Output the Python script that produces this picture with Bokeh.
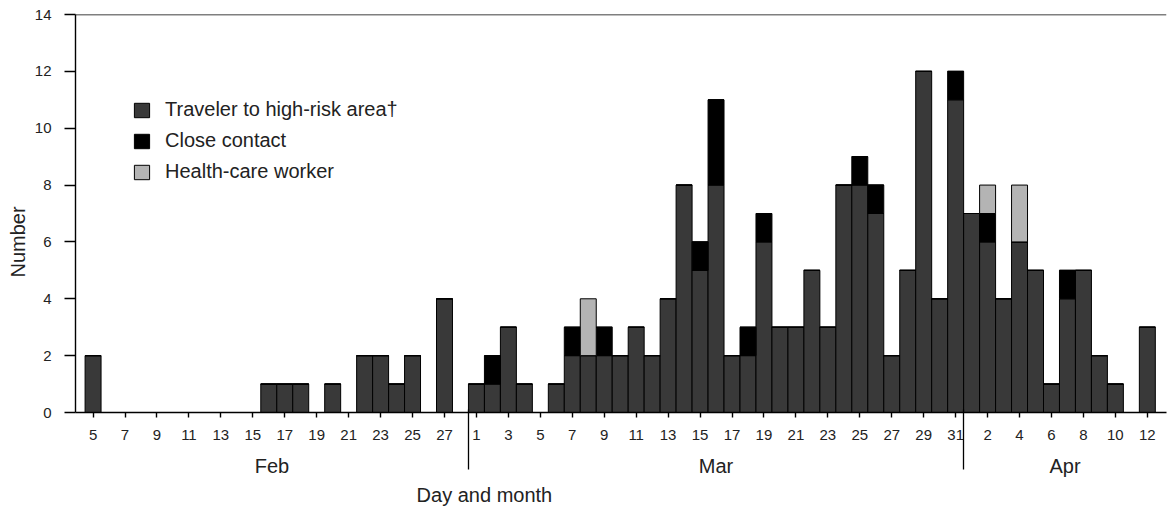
from bokeh.plotting import figure
from bokeh.models import LinearAxis, FixedTicker, Span, ColumnDataSource
from bokeh.embed import file_html
from bokeh.resources import INLINE

# ---- data ----
month_names = ["Feb", "Mar", "Apr"]
feb_days = list(range(5, 29))
mar_days = list(range(1, 32))
apr_days = list(range(1, 13))

feb_traveler = [2, 0, 0, 0, 0, 0, 0, 0, 0, 0, 0, 1, 1, 1, 0, 1, 0, 2, 2, 1, 2, 0, 4, 0]
feb_close = [0] * 24
feb_hcw = [0] * 24

mar_traveler = [1, 1, 3, 1, 0, 1, 2, 2, 2, 2, 3, 2, 4, 8, 5, 8, 2, 2, 6, 3, 3, 5, 3, 8, 8, 7, 2, 5, 12, 4, 11]
mar_close = [0, 1, 0, 0, 0, 0, 1, 0, 1, 0, 0, 0, 0, 0, 1, 3, 0, 1, 1, 0, 0, 0, 0, 0, 1, 1, 0, 0, 0, 0, 1]
mar_hcw = [0, 0, 0, 0, 0, 0, 0, 2, 0, 0, 0, 0, 0, 0, 0, 0, 0, 0, 0, 0, 0, 0, 0, 0, 0, 0, 0, 0, 0, 0, 0]

apr_traveler = [7, 6, 4, 6, 5, 1, 4, 5, 2, 1, 0, 3]
apr_close = [0, 1, 0, 0, 0, 0, 1, 0, 0, 0, 0, 0]
apr_hcw = [0, 1, 0, 2, 0, 0, 0, 0, 0, 0, 0, 0]

series_names = ["Traveler to high-risk area\u2020", "Close contact", "Health-care worker"]
y_ticks = [0, 2, 4, 6, 8, 10, 12, 14]

# ---- build the table ----
days = feb_days + mar_days + apr_days
months = ["Feb"] * len(feb_days) + ["Mar"] * len(mar_days) + ["Apr"] * len(apr_days)
xs = list(range(len(days)))
src = ColumnDataSource(dict(
    x=xs,
    traveler=feb_traveler + mar_traveler + apr_traveler,
    close=feb_close + mar_close + apr_close,
    hcw=feb_hcw + mar_hcw + apr_hcw,
))

FONT = "Liberation Sans"
TXT = "#222222"
x_start, x_end = -1.1, 67.2

p = figure(width=1168, height=510, x_range=(x_start, x_end), y_range=(0, 14),
           x_axis_type=None, y_axis_type=None,
           output_backend="svg", toolbar_location=None,
           min_border_left=75, min_border_right=2, min_border_top=14, min_border_bottom=98)
p.outline_line_color = None
p.xgrid.visible = False
p.ygrid.visible = False

p.vbar_stack(["traveler", "close", "hcw"], x="x", width=1.0, source=src,
             fill_color=["#393939", "#000000", "#b4b4b4"],
             line_color="black", line_width=1,
             legend_label=series_names)

# top rule
p.add_layout(Span(location=14, dimension="width", line_color="black", line_width=1.5))

# ---- y axis ----
yax = LinearAxis(ticker=FixedTicker(ticks=y_ticks, minor_ticks=[]),
                 major_tick_out=11, major_tick_in=0, major_label_standoff=13,
                 major_label_text_font=FONT, major_label_text_font_size="15px",
                 major_label_text_color=TXT, axis_line_width=1.4, major_tick_line_width=1.4)
p.add_layout(yax, "left")
ylab = LinearAxis(ticker=FixedTicker(ticks=[6.0], minor_ticks=[]),
                  major_label_overrides={6.0: "Number"}, major_label_orientation="vertical",
                  major_tick_out=0, major_tick_in=0, axis_line_color=None,
                  major_label_standoff=2, major_label_text_font=FONT,
                  major_label_text_font_size="20px", major_label_text_color=TXT)
p.add_layout(ylab, "left")

# ---- x axis: days ----
lab_idx = []
lab_txt = {}
for i, (d, m) in enumerate(zip(days, months)):
    if (m in ("Feb", "Mar") and d % 2 == 1) or (m == "Apr" and d % 2 == 0):
        lab_idx.append(i)
        lab_txt[i] = str(d)
dax = LinearAxis(ticker=FixedTicker(ticks=lab_idx, minor_ticks=[]),
                 major_label_overrides=lab_txt,
                 major_tick_out=5, major_tick_in=0, major_label_standoff=12,
                 major_label_text_font=FONT, major_label_text_font_size="15px",
                 major_label_text_color=TXT, axis_line_width=1.4, major_tick_line_width=1.4)
p.add_layout(dax, "below")

# ---- x axis: months with separators ----
b1 = len(feb_days) - 0.5
b2 = len(feb_days) + len(mar_days) - 0.5
centers = [(x_start + b1) / 2, (b1 + b2) / 2, (b2 + x_end) / 2]
max_ = LinearAxis(ticker=FixedTicker(ticks=centers, minor_ticks=[b1, b2]),
                  major_label_overrides={c: n for c, n in zip(centers, month_names)},
                  major_tick_out=0, major_tick_in=0,
                  minor_tick_in=33, minor_tick_out=27, minor_tick_line_color="black",
                  minor_tick_line_width=1.3, axis_line_color=None,
                  major_label_standoff=-15, major_label_text_font=FONT,
                  major_label_text_font_size="20px", major_label_text_color=TXT)
p.add_layout(max_, "below")

# ---- x axis title ----
tpos = 24.5
tax = LinearAxis(ticker=FixedTicker(ticks=[tpos], minor_ticks=[]),
                 major_label_overrides={tpos: "Day and month"},
                 major_tick_out=0, major_tick_in=0, axis_line_color=None,
                 major_label_standoff=4, major_label_text_font=FONT,
                 major_label_text_font_size="20px", major_label_text_color=TXT)
p.add_layout(tax, "below")

# ---- legend ----
lg = p.legend[0]
lg.location = (57, 229)
lg.label_text_font = FONT
lg.label_text_font_size = "20px"
lg.label_text_color = TXT
lg.glyph_width = 19
lg.glyph_height = 18
lg.label_standoff = 14
lg.spacing = 8
lg.padding = 0
lg.margin = 0
lg.border_line_color = None
lg.background_fill_alpha = 0

open("out.html", "w").write(file_html(p, INLINE))
